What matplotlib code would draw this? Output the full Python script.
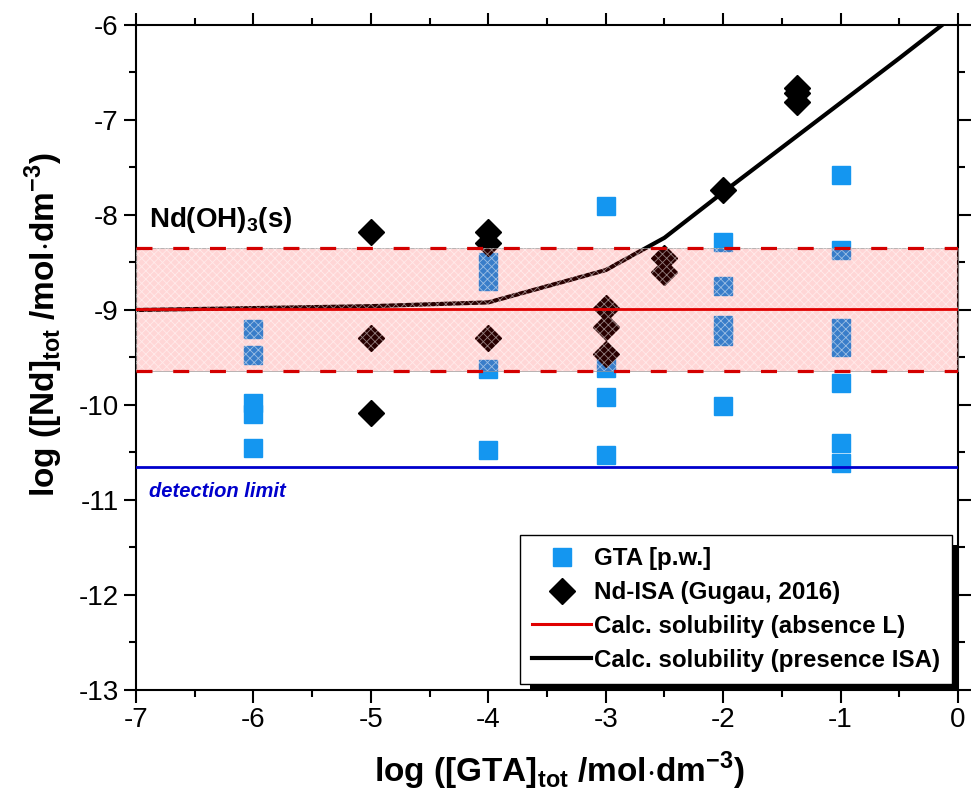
import matplotlib
matplotlib.use("Agg")
import matplotlib.pyplot as plt
from matplotlib.patches import Rectangle
from matplotlib.ticker import MultipleLocator

plt.rcParams['font.family'] = ['Liberation Sans', 'DejaVu Sans']
plt.rcParams['mathtext.fontset'] = 'custom'
plt.rcParams['mathtext.rm'] = 'Liberation Sans'
plt.rcParams['mathtext.bf'] = 'Liberation Sans:bold'
plt.rcParams['axes.unicode_minus'] = False
plt.rcParams['hatch.linewidth'] = 0.6

# GTA solubility data (this work)
gta_x = [-6, -6, -6, -6, -6,
         -4, -4, -4, -4,
         -3, -3, -3, -3,
         -2, -2, -2, -2, -2,
         -1, -1, -1, -1, -1, -1, -1]
gta_y = [-9.20, -9.47, -9.98, -10.09, -10.45,
         -8.49, -8.70, -9.62, -10.47,
         -7.91, -9.61, -9.92, -10.53,
         -8.28, -8.75, -9.16, -9.27, -10.01,
         -7.58, -8.37, -9.19, -9.39, -9.77, -10.40, -10.61]

# Nd-ISA data (Gugau, 2016)
isa_x = [-5, -5, -5, -4, -4, -4, -3, -3, -3, -2.5, -2.5, -2, -1.37, -1.37, -1.37]
isa_y = [-8.18, -9.30, -10.08, -8.18, -8.29, -9.30, -8.98, -9.18, -9.46,
         -8.45, -8.60, -7.74, -6.66, -6.72, -6.81]

# calculated solubility in presence of ISA
calc_x = [-7, -6, -5, -4, -3, -2.5, -2, -1.5, -1, -0.5, 0]
calc_y = [-9.00, -8.98, -8.96, -8.92, -8.58, -8.24, -7.76, -7.29, -6.82, -6.35, -5.87]

# Nd(OH)3(s) solubility without ligand and its uncertainty band
sol_mid = -8.99
sol_lo = -9.64
sol_hi = -8.35
det_limit = -10.65

fig = plt.figure(figsize=(9.72, 8.01), dpi=100)
ax = fig.add_axes([0.140, 0.1386, 0.8456, 0.8302])

ax.plot(gta_x, gta_y, ls='none', marker='s', ms=13.5, color='#1496F0', zorder=2,
        label='GTA [p.w.]')
ax.plot(isa_x, isa_y, ls='none', marker='D', ms=13.5, color='black', zorder=2,
        label='Nd-ISA (Gugau, 2016)')
ax.plot(calc_x, calc_y, color='black', lw=3.0, zorder=2.5)

band_x = [-7, 0]
ax.fill_between(band_x, [sol_lo] * 2, [sol_hi] * 2, facecolor=(1, 0, 0, 0.16),
                edgecolor=(0.6, 0.6, 0.6, 0.8), lw=0.6, zorder=3)
ax.fill_between(band_x, [sol_lo] * 2, [sol_hi] * 2, facecolor='none',
                hatch='xxxx', edgecolor=(1, 1, 1, 0.5), lw=0, zorder=3.1)

ax.plot(band_x, [sol_mid] * 2, color='#E00000', lw=2.0, zorder=4)
ax.plot(band_x, [sol_hi] * 2, color='#D40000', lw=2.3, ls=(0, (5, 6.5)), zorder=4)
ax.plot(band_x, [sol_lo] * 2, color='#D40000', lw=2.3, ls=(0, (5, 6.5)), zorder=4)
ax.plot(band_x, [det_limit] * 2, color='#0000CC', lw=2.0, zorder=4)

ax.text(-6.89, -8.13, r'Nd(OH)$_\mathbf{3}$(s)', fontsize=20, fontweight='bold',
        ha='left', va='baseline', zorder=5)
ax.text(-6.89, -10.97, 'detection limit', fontsize=14.5, fontweight='bold',
        fontstyle='italic', color='#0000CC', ha='left', va='baseline', zorder=5)

ax.set_xlim(-7, 0)
ax.set_ylim(-13, -6)
ax.xaxis.set_major_locator(MultipleLocator(1))
ax.xaxis.set_minor_locator(MultipleLocator(0.5))
ax.yaxis.set_major_locator(MultipleLocator(1))
ax.yaxis.set_minor_locator(MultipleLocator(0.5))
ax.tick_params(which='both', direction='out', top=True, right=True, width=1.5,
               labelsize=20)
ax.tick_params(which='major', length=9)
ax.tick_params(which='minor', length=5)
for sp in ax.spines.values():
    sp.set_linewidth(1.5)

lab_font = {'weight': 'bold', 'size': 24}
ax.set_xlabel(r'log ([GTA]$_\mathbf{tot}$ /mol$\cdot$dm$^\mathbf{-3}$)',
              fontdict=lab_font, labelpad=12)
ax.set_ylabel(r'log ([Nd]$_\mathbf{tot}$ /mol$\cdot$dm$^\mathbf{-3}$)',
              fontdict=lab_font, labelpad=10)
ax.xaxis.label.set_x(0.515)
ax.yaxis.label.set_y(0.55)

# legend with a solid offset shadow
ax.add_patch(Rectangle((0.479, 0.0), 0.521, 0.218, transform=ax.transAxes,
                       facecolor='black', edgecolor='none', zorder=6, clip_on=False))
h_red, = ax.plot([], [], color='#E00000', lw=2.2)
h_blk, = ax.plot([], [], color='black', lw=3.0)
handles = ax.get_legend_handles_labels()[0][:2] + [h_red, h_blk]
labels = ['GTA [p.w.]', 'Nd-ISA (Gugau, 2016)',
          'Calc. solubility (absence L)', 'Calc. solubility (presence ISA)']
leg = ax.legend(handles, labels, loc='upper left', bbox_to_anchor=(0.467, 0.233),
                frameon=True, fancybox=False, framealpha=1, edgecolor='black',
                prop={'weight': 'bold', 'size': 17.4}, handlelength=2.45,
                handletextpad=0.1, labelspacing=0.45, borderpad=0.5,
                borderaxespad=0)
leg.get_frame().set_linewidth(1.0)
leg.set_zorder(7)

fig.savefig('out.png', dpi=100)
